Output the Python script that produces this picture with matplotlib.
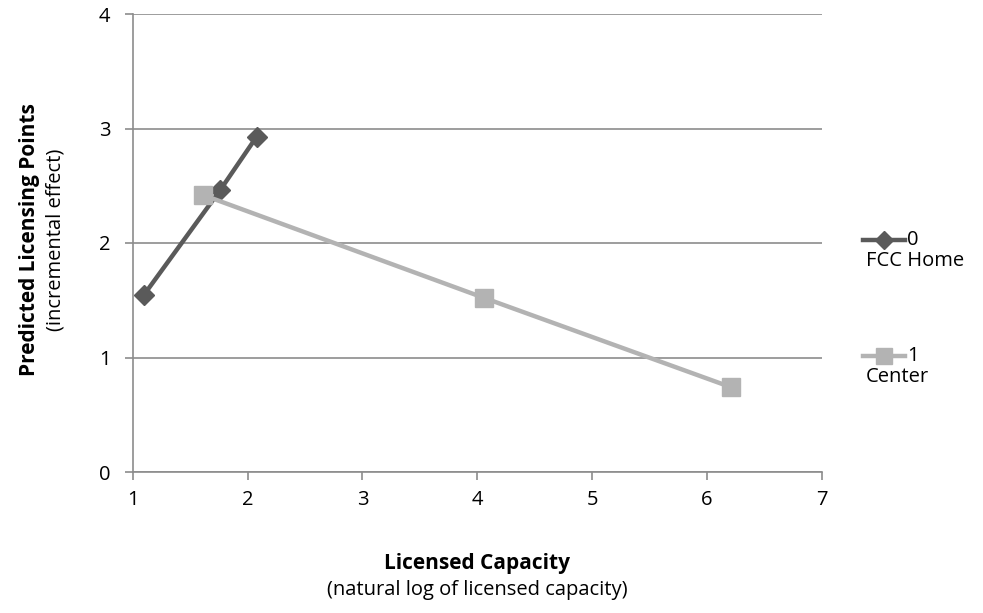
import matplotlib.pyplot as plt
from matplotlib.lines import Line2D

plt.rcParams['font.family'] = ['Open Sans', 'DejaVu Sans']

# FCC Home (0) and Center (1) series
home_x = [1.10, 1.76, 2.08]
home_y = [1.55, 2.46, 2.93]
center_x = [1.61, 4.06, 6.21]
center_y = [2.42, 1.52, 0.74]

series_labels = ["0", "1"]
series_names = ["FCC Home", "Center"]
x_ticks = [1, 2, 3, 4, 5, 6, 7]
y_ticks = [0, 1, 2, 3, 4]

DARK = "#5a5a5a"
LIGHT = "#b3b3b3"
GRID = "#8c8c8c"

fig = plt.figure(figsize=(9.83, 6.13), dpi=100)
ax = fig.add_axes([132.7 / 983, 1 - 472 / 613, (822 - 132.7) / 983, (472 - 14) / 613])

ax.plot(home_x, home_y, color=DARK, lw=3.2, marker="D", ms=10, zorder=3)
ax.plot(center_x, center_y, color=LIGHT, lw=3.2, marker="s", ms=13, zorder=4)

ax.set_xlim(1, 7)
ax.set_ylim(0, 4)
ax.set_xticks(x_ticks)
ax.set_yticks(y_ticks)
ax.yaxis.grid(True, color=GRID, lw=1.2)
ax.set_axisbelow(True)
for s in ["top", "right"]:
    ax.spines[s].set_visible(False)
for s in ["left", "bottom"]:
    ax.spines[s].set_color(GRID)
    ax.spines[s].set_linewidth(1.2)
ax.tick_params(axis="both", colors=GRID, labelcolor="black", labelsize=14.5,
               length=6, width=1.2, direction="out")
ax.tick_params(axis="x", pad=7)
ax.tick_params(axis="y", pad=10)

# axis titles
fig.text(477 / 983, 1 - 563 / 613, "Licensed Capacity", ha="center", va="center",
         fontsize=15, fontweight="bold")
fig.text(477 / 983, 1 - 590 / 613, "(natural log of licensed capacity)", ha="center",
         va="center", fontsize=14.5)
fig.text(30 / 983, 1 - 240 / 613, "Predicted Licensing Points", ha="center", va="center",
         rotation=90, fontsize=15, fontweight="bold")
fig.text(56 / 983, 1 - 240 / 613, "(incremental effect)", ha="center", va="center",
         rotation=90, fontsize=14.5)

# legend, drawn Excel-style
leg_y = [240, 356]
for (lab, name, col, mk, ms, yy) in zip(series_labels, series_names, [DARK, LIGHT],
                                        ["D", "s"], [9, 11], leg_y):
    fy = 1 - yy / 613
    fig.add_artist(Line2D([863 / 983, 905 / 983], [fy, fy], color=col, lw=3.2,
                          transform=fig.transFigure))
    fig.add_artist(Line2D([884 / 983], [fy], color=col, marker=mk, ms=ms,
                          transform=fig.transFigure))
    fig.text(907 / 983, fy, lab, ha="left", va="center", fontsize=14.5)
    fig.text(866 / 983, fy - 21 / 613, name, ha="left", va="center", fontsize=14.5)

fig.savefig("out.png", dpi=100)
